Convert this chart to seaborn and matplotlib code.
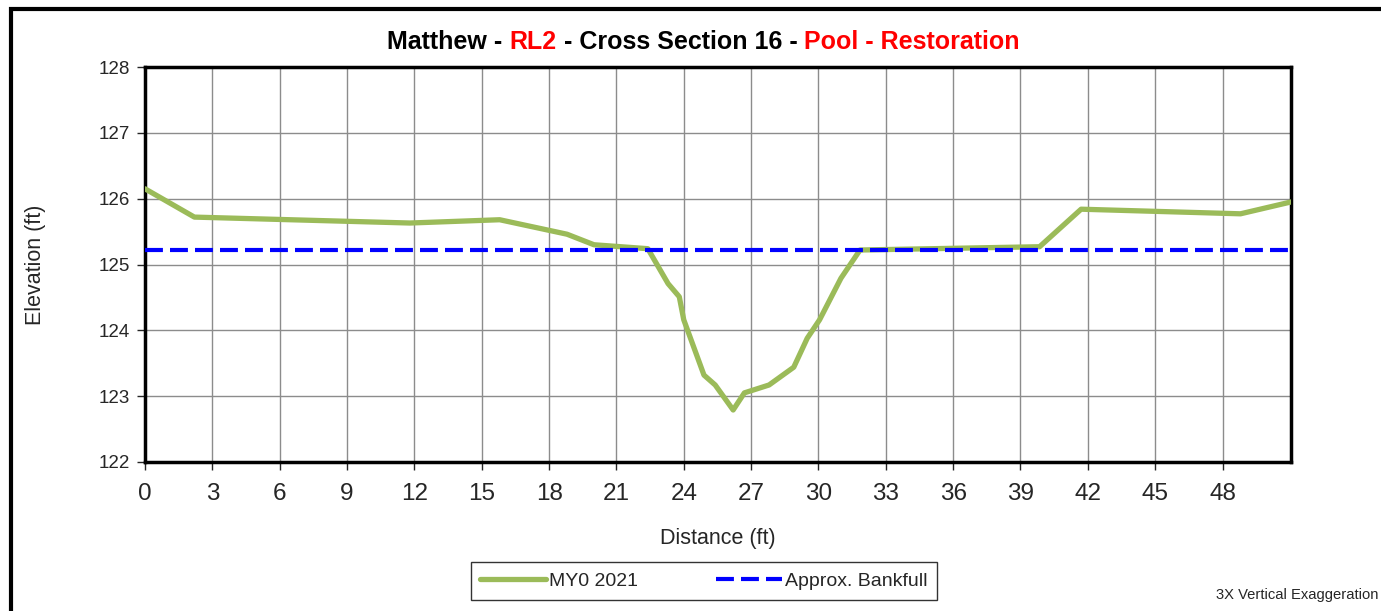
import matplotlib
matplotlib.use("Agg")
import matplotlib.pyplot as plt
import seaborn as sns
import pandas as pd
from matplotlib.patches import Rectangle

# survey data
distance = [0.0, 2.2, 11.8, 15.8, 18.8, 20.0, 22.4, 23.3, 23.8, 24.0, 24.9,
            25.4, 26.2, 26.7, 27.8, 28.9, 29.5, 30.05, 31.0, 31.85, 39.85,
            41.7, 48.8, 51.05]
elevation = [126.15, 125.72, 125.63, 125.68, 125.46, 125.30, 125.24, 124.71,
             124.51, 124.16, 123.32, 123.17, 122.79, 123.05, 123.17, 123.44,
             123.88, 124.16, 124.79, 125.22, 125.27, 125.84, 125.77, 125.95]
bankfull = 125.22
x_ticks = list(range(0, 49, 3))
y_ticks = list(range(122, 129))

title_parts = [("Matthew - ", "black"), ("RL2", "red"),
               (" - Cross Section 16 - ", "black"), ("Pool - Restoration", "red")]

sns.set_style("white")
plt.rcParams['font.family'] = ['Liberation Sans', 'DejaVu Sans']

df = pd.DataFrame({"Distance": distance, "Elevation": elevation})

W, H = 1381, 611
fig = plt.figure(figsize=(W / 100, H / 100), dpi=100)
ax = fig.add_axes([145 / W, 1 - 462 / H, (1291 - 145) / W, (462 - 67) / H])

sns.lineplot(data=df, x="Distance", y="Elevation", ax=ax, color="#9bbb59",
             linewidth=3.8, label="MY0 2021", sort=False, zorder=3)
ax.axhline(bankfull, color="#0000ff", linestyle=(0, (4.3, 1.7)), linewidth=3.0,
           label="Approx. Bankfull", zorder=4)

ax.set_xlim(0, 51.05)
ax.set_ylim(122, 128)
ax.set_xticks(x_ticks)
ax.set_yticks(y_ticks)
ax.tick_params(axis="x", labelsize=17.5, length=6, width=1, direction="out", pad=9, bottom=True)
ax.tick_params(axis="y", labelsize=13.5, length=6, width=1, direction="out", pad=5, left=True)
ax.grid(True, color="#8c8c8c", linewidth=1)
for s in ax.spines.values():
    s.set_color("black")
    s.set_linewidth(2.5)
    s.set_visible(True)

ax.set_xlabel("Distance (ft)", fontsize=15.5, labelpad=17)
ax.set_ylabel("Elevation (ft)", fontsize=15.5, labelpad=38)

leg = ax.legend(loc="center", bbox_to_anchor=((704 - 145) / 1146, -(581 - 462) / 395),
                ncol=2, fontsize=14, frameon=True, fancybox=False, edgecolor="black",
                handlelength=3.4, handletextpad=0.15, columnspacing=4.0,
                borderpad=0.5)
leg.get_frame().set_linewidth(1)

# multi-coloured title, centred above the chart
fig.canvas.draw()
renderer = fig.canvas.get_renderer()
texts = []
widths = []
for txt, col in title_parts:
    t = fig.text(0, 0, txt, color=col, fontsize=18, fontweight="bold", va="center")
    widths.append(t.get_window_extent(renderer).width)
    texts.append(t)
x0 = 703.5 - sum(widths) / 2
for t, w in zip(texts, widths):
    t.set_position((x0 / W, 1 - 42 / H))
    x0 += w

fig.text(1378 / W, 1 - 595 / H, "3X Vertical Exaggeration", fontsize=10.6,
         ha="right", va="center")

# outer chart frame
fig.patches.append(Rectangle((11 / W, -0.05), 1.2, 1 - 9 / H + 0.05,
                             transform=fig.transFigure, fill=False,
                             edgecolor="black", linewidth=3))

fig.savefig("out.png", dpi=100)
plt.close(fig)
